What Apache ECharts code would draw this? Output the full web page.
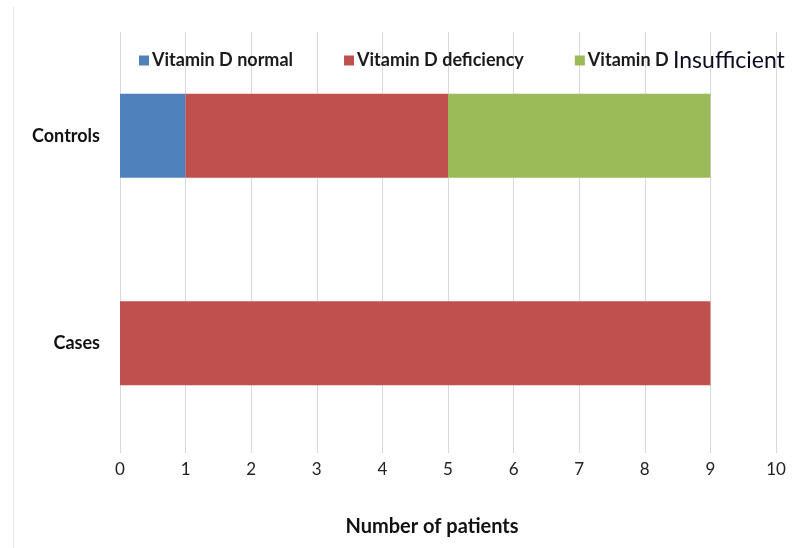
<!DOCTYPE html>
<html>
<head>
<meta charset="utf-8">
<script src="https://cdn.jsdelivr.net/npm/echarts@6/dist/echarts.min.js"></script>
<style>html,body{margin:0;padding:0;background:#fff}#c{width:800px;height:548px}</style>
</head>
<body>
<div id="c"></div>
<script>
var categories = ['Cases', 'Controls'];
var seriesNames = ['Vitamin D normal', 'Vitamin D deficiency', 'Vitamin D Insufficient'];
var normalVals = [0, 1];
var deficiencyVals = [9, 4];
var insufficientVals = [0, 4];
var xTicks = [0, 1, 2, 3, 4, 5, 6, 7, 8, 9, 10];
var colors = ['#4f81bd', '#c0504d', '#9bbb59'];
var FONT = 'Lato, "Open Sans", sans-serif';

var chart = echarts.init(document.getElementById('c'), null, {renderer: 'canvas'});
var values = [normalVals, deficiencyVals, insufficientVals];
var series = seriesNames.map(function (n, i) {
  return {
    name: n, type: 'bar', stack: 'total', barWidth: 84,
    itemStyle: {color: colors[i]},
    data: values[i]
  };
});
chart.setOption({
  animation: false,
  textStyle: {fontFamily: FONT},
  grid: {left: 120, right: 24, top: 32, bottom: 101, containLabel: false},
  legend: {
    left: 134, top: 44, itemWidth: 10, itemHeight: 10, itemGap: 51, icon: 'rect',
    textStyle: {fontFamily: FONT, fontSize: 18, fontWeight: 'bold', color: '#1a1a1a', padding: [0, 0, 0, -2]},
    formatter: function (name) {
      if (name === 'Vitamin D Insufficient') return 'Vitamin D {b|Insufficient}';
      return name;
    },
    data: seriesNames.map(function (n) {
      return {name: n, textStyle: {rich: {b: {fontFamily: FONT, fontSize: 23, fontWeight: 'normal', color: '#0a0a20'}}}};
    })
  },
  xAxis: {
    type: 'value', min: 0, max: 10, interval: 1,
    axisLine: {show: false},
    axisTick: {show: true, length: 6, lineStyle: {color: '#d9d9d9'}},
    splitLine: {show: true, lineStyle: {color: '#d9d9d9', width: 1}},
    axisLabel: {fontFamily: FONT, fontSize: 17, color: '#222', margin: 14,
      formatter: function (v) { return xTicks.indexOf(v) >= 0 ? String(v) : ''; }},
    name: 'Number of patients', nameLocation: 'middle', nameGap: 70,
    nameTextStyle: {fontFamily: FONT, fontSize: 20, fontWeight: 'bold', color: '#111', padding: [0, 32, 0, 0]}
  },
  yAxis: {
    type: 'category', data: categories,
    axisLine: {show: false}, axisTick: {show: false},
    axisLabel: {fontFamily: FONT, fontSize: 18, fontWeight: 'bold', color: '#111', margin: 20}
  },
  graphic: [{
    type: 'line', shape: {x1: 13.5, y1: 7, x2: 13.5, y2: 548},
    style: {stroke: '#e3e3e3', lineWidth: 1}
  }],
  series: series
});
</script>
</body>
</html>
